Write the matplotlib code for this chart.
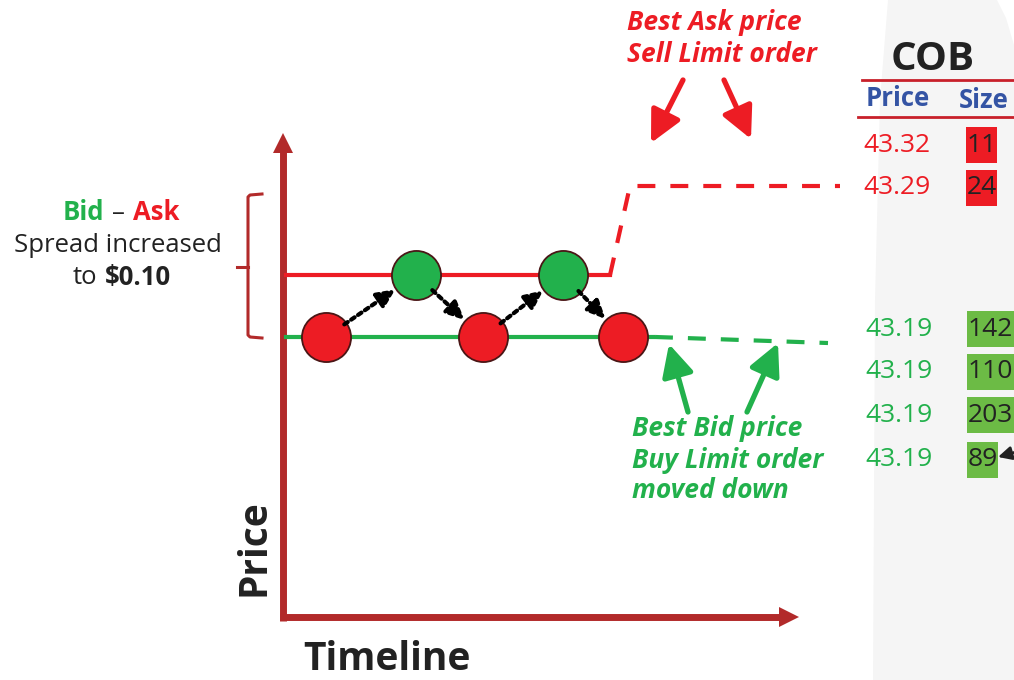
import matplotlib
matplotlib.use("Agg")
import matplotlib.pyplot as plt
from matplotlib.patches import Polygon, Rectangle

plt.rcParams['font.family'] = ['Open Sans', 'DejaVu Sans']

RED = '#ed1c24'
GREEN = '#22b14c'
DARK_RED = '#b22a2a'
BOX_GREEN = '#6cbb45'
BLUE = '#3454a4'
INK = '#222222'

# order flow (timeline units, price)
order_t = [4.3, 13.3, 20.0, 28.0, 34.0]
order_p = [43.19, 43.231, 43.19, 43.231, 43.19]
order_side = ['bid', 'ask', 'bid', 'ask', 'bid']

# quote levels
ask_t = [0.3, 32.7]
ask_p = [43.231, 43.231]
new_ask_t = [32.7, 34.7, 55.7]
new_ask_p = [43.231, 43.29, 43.29]
bid_t = [0.3, 37.0]
bid_p = [43.19, 43.19]
new_bid_t = [37.2, 54.5]
new_bid_p = [43.19, 43.186]

# consolidated order book
ask_prices = ['43.32', '43.29']
ask_sizes = ['11', '24']
bid_prices = ['43.19', '43.19', '43.19', '43.19']
bid_sizes = ['142', '110', '203', '89']

fig = plt.figure(figsize=(10.14, 6.8), dpi=100)
canvas = fig.add_axes([0, 0, 1, 1])
canvas.set_xlim(0, 1014)
canvas.set_ylim(680, 0)
canvas.axis('off')

ax = fig.add_axes([0, 0, 1, 1])
ax.set_xlim(-28.3, 73.1)
ax.set_ylim(42.9628, 43.4132)
ax.axis('off')
ax.patch.set_alpha(0)

# grey backdrop on the right
canvas.add_patch(Polygon([(888, 0), (880, 100), (875, 300), (873, 680), (1014, 680),
                          (1014, 45), (1006, 18), (997, 0)],
                         closed=True, fc='#f5f5f5', ec='none', zorder=0))

# axes arrows
canvas.plot([283, 283], [621, 150], color=DARK_RED, lw=5, solid_capstyle='butt', zorder=2)
canvas.add_patch(Polygon([(273, 153), (293, 153), (283, 133)], closed=True,
                         fc=DARK_RED, ec='none', zorder=2))
canvas.plot([280, 782], [617, 617], color=DARK_RED, lw=5, solid_capstyle='butt', zorder=2)
canvas.add_patch(Polygon([(779, 607), (779, 627), (799, 617)], closed=True,
                         fc=DARK_RED, ec='none', zorder=2))
canvas.text(254, 548, 'Price', rotation=90, ha='center', va='center',
            fontsize=28, fontweight='bold', color=INK)
canvas.text(303, 660, 'Timeline', ha='left', va='center',
            fontsize=28, fontweight='bold', color=INK)

# quote lines
ax.plot(ask_t, ask_p, color=RED, lw=3, zorder=3)
ax.plot(new_ask_t, new_ask_p, color=RED, lw=3, ls=(0, (4.3, 3.6)), zorder=3)
ax.plot(bid_t, bid_p, color=GREEN, lw=3, zorder=3)
ax.plot(new_bid_t, new_bid_p, color=GREEN, lw=3, ls=(0, (4.3, 3.6)), zorder=3)

# orders
for t, p, side in zip(order_t, order_p, order_side):
    ax.scatter(t, p, s=1250, color=RED if side == 'bid' else GREEN,
               edgecolor='#4a1616', linewidth=1.3, zorder=5)
for i in range(len(order_t) - 1):
    ax.annotate('', xy=(order_t[i + 1], order_p[i + 1]), xytext=(order_t[i], order_p[i]),
                arrowprops=dict(arrowstyle='-|>,head_length=0.9,head_width=0.42',
                                mutation_scale=12, color='black', lw=3,
                                linestyle=(0, (1, 1)), shrinkA=16, shrinkB=18),
                zorder=6)

# spread bracket
canvas.plot([262, 250, 248, 248, 250, 262], [194, 195, 197, 335, 337, 338],
            color=DARK_RED, lw=2.2, zorder=2)
canvas.plot([237, 248], [267, 267], color=DARK_RED, lw=2.2, zorder=2)

canvas.text(104, 213, 'Bid', ha='right', va='center', fontsize=18.5,
            fontweight='bold', color=GREEN)
canvas.text(118, 213, '–', ha='center', va='center', fontsize=18.5, color=INK)
canvas.text(133, 213, 'Ask', ha='left', va='center', fontsize=18.5,
            fontweight='bold', color=RED)
canvas.text(118, 245, 'Spread increased', ha='center', va='center', fontsize=18.5, color=INK)
canvas.text(97, 277, 'to', ha='right', va='center', fontsize=18.5, color=INK)
canvas.text(105, 277, '$0.10', ha='left', va='center', fontsize=18.5,
            fontweight='bold', color=INK)

# callouts
canvas.text(627, 22, 'Best Ask price', ha='left', va='center', fontsize=19,
            fontweight='bold', style='italic', color=RED)
canvas.text(627, 54, 'Sell Limit order', ha='left', va='center', fontsize=19,
            fontweight='bold', style='italic', color=RED)
for tail, tip in [((683, 80), (651, 143)), ((724, 80), (751, 139))]:
    canvas.annotate('', xy=tip, xytext=tail,
                    arrowprops=dict(arrowstyle='-|>,head_length=1.2,head_width=0.6',
                                    mutation_scale=16, color=RED, lw=3.8,
                                    shrinkA=0, shrinkB=0))

canvas.text(632, 428, 'Best Bid price', ha='left', va='center', fontsize=19,
            fontweight='bold', style='italic', color=GREEN)
canvas.text(632, 460, 'Buy Limit order', ha='left', va='center', fontsize=19,
            fontweight='bold', style='italic', color=GREEN)
canvas.text(632, 491, 'moved down', ha='left', va='center', fontsize=19,
            fontweight='bold', style='italic', color=GREEN)
for tail, tip in [((688, 412), (669, 344)), ((747, 412), (778, 343))]:
    canvas.annotate('', xy=tip, xytext=tail,
                    arrowprops=dict(arrowstyle='-|>,head_length=1.2,head_width=0.6',
                                    mutation_scale=16, color=GREEN, lw=3.8,
                                    shrinkA=0, shrinkB=0))

# COB table
canvas.text(933, 60, 'COB', ha='center', va='center', fontsize=29,
            fontweight='bold', color=INK)
canvas.plot([862, 1014], [80, 80], color='#c8202a', lw=2)
canvas.text(898, 99, 'Price', ha='center', va='center', fontsize=18.5,
            fontweight='bold', color=BLUE)
canvas.text(984, 100, 'Size', ha='center', va='center', fontsize=18.5,
            fontweight='bold', color=BLUE)
canvas.plot([858, 1014], [117, 117], color='#c8202a', lw=2)

ask_rows_y = [145, 188]
for y, price, size in zip(ask_rows_y, ask_prices, ask_sizes):
    canvas.text(897, y, price, ha='center', va='center', fontsize=19, color=RED)
    canvas.add_patch(Rectangle((966, y - 18), 31, 36, fc=RED, ec='none', zorder=1))
    canvas.text(967, y, size, ha='left', va='center', fontsize=19, color=INK, zorder=2)

bid_rows_y = [329, 372, 415, 460]
for y, price, size in zip(bid_rows_y, bid_prices, bid_sizes):
    canvas.text(899, y, price, ha='center', va='center', fontsize=19, color=GREEN)
    w = 31 if len(size) < 3 else 60
    canvas.add_patch(Rectangle((967, y - 18), w, 36, fc=BOX_GREEN, ec='none', zorder=1))
    canvas.text(968, y, size, ha='left', va='center', fontsize=19, color=INK, zorder=2)
canvas.annotate('', xy=(998, 457), xytext=(1016, 452),
                arrowprops=dict(arrowstyle='-|>,head_length=0.8,head_width=0.4',
                                mutation_scale=10, color=INK, lw=2, shrinkA=0, shrinkB=0))

fig.savefig('out.png', dpi=100)
